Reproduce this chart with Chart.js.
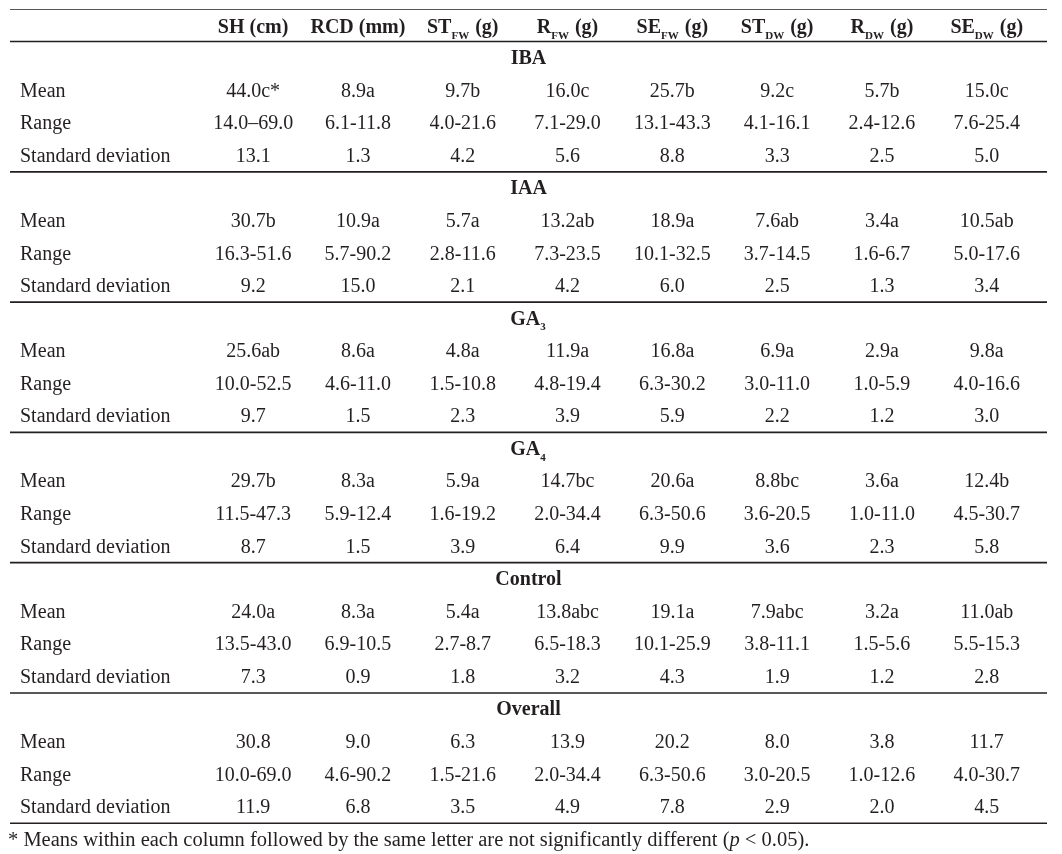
<!DOCTYPE html>
<html>
<head>
<meta charset="utf-8">
<script src="https://cdn.jsdelivr.net/npm/chart.js@4.4.1/dist/chart.umd.min.js"></script>
<style>
  html, body { margin: 0; background: #fff; }
  canvas { display: block; }
</style>
</head>
<body>
<canvas id="table" width="1062" height="854"></canvas>
<script>
// column headers: [main, subscript, unit]
const headers = [
  ["SH", "", " (cm)"],
  ["RCD", "", " (mm)"],
  ["ST", "FW", " (g)"],
  ["R", "FW", " (g)"],
  ["SE", "FW", " (g)"],
  ["ST", "DW", " (g)"],
  ["R", "DW", " (g)"],
  ["SE", "DW", " (g)"]
];
const groups = ["IBA", "IAA", "GA", "GA", "Control", "Overall"];
const groupSubs = ["", "", "3", "4", "", ""];
const rowLabels = ["Mean", "Range", "Standard deviation"];

const means = [
  ["44.0c*", "8.9a", "9.7b", "16.0c", "25.7b", "9.2c", "5.7b", "15.0c"],
  ["30.7b", "10.9a", "5.7a", "13.2ab", "18.9a", "7.6ab", "3.4a", "10.5ab"],
  ["25.6ab", "8.6a", "4.8a", "11.9a", "16.8a", "6.9a", "2.9a", "9.8a"],
  ["29.7b", "8.3a", "5.9a", "14.7bc", "20.6a", "8.8bc", "3.6a", "12.4b"],
  ["24.0a", "8.3a", "5.4a", "13.8abc", "19.1a", "7.9abc", "3.2a", "11.0ab"],
  ["30.8", "9.0", "6.3", "13.9", "20.2", "8.0", "3.8", "11.7"]
];
const ranges = [
  ["14.0\u201369.0", "6.1-11.8", "4.0-21.6", "7.1-29.0", "13.1-43.3", "4.1-16.1", "2.4-12.6", "7.6-25.4"],
  ["16.3-51.6", "5.7-90.2", "2.8-11.6", "7.3-23.5", "10.1-32.5", "3.7-14.5", "1.6-6.7", "5.0-17.6"],
  ["10.0-52.5", "4.6-11.0", "1.5-10.8", "4.8-19.4", "6.3-30.2", "3.0-11.0", "1.0-5.9", "4.0-16.6"],
  ["11.5-47.3", "5.9-12.4", "1.6-19.2", "2.0-34.4", "6.3-50.6", "3.6-20.5", "1.0-11.0", "4.5-30.7"],
  ["13.5-43.0", "6.9-10.5", "2.7-8.7", "6.5-18.3", "10.1-25.9", "3.8-11.1", "1.5-5.6", "5.5-15.3"],
  ["10.0-69.0", "4.6-90.2", "1.5-21.6", "2.0-34.4", "6.3-50.6", "3.0-20.5", "1.0-12.6", "4.0-30.7"]
];
const sds = [
  ["13.1", "1.3", "4.2", "5.6", "8.8", "3.3", "2.5", "5.0"],
  ["9.2", "15.0", "2.1", "4.2", "6.0", "2.5", "1.3", "3.4"],
  ["9.7", "1.5", "2.3", "3.9", "5.9", "2.2", "1.2", "3.0"],
  ["8.7", "1.5", "3.9", "6.4", "9.9", "3.6", "2.3", "5.8"],
  ["7.3", "0.9", "1.8", "3.2", "4.3", "1.9", "1.2", "2.8"],
  ["11.9", "6.8", "3.5", "4.9", "7.8", "2.9", "2.0", "4.5"]
];
const footnote = ["* Means within each column followed by the same letter are not significantly different (", "p", " < 0.05)."];

const ink = "#231f20";
const serif = "'Liberation Serif', 'Times New Roman', serif";
const xMin = -2.32, xMax = 7.575;
const yMin = -0.5, yMax = 25.2;

// build cells: header row 0, then 4 rows per group, footnote last
let cells = [];
headers.forEach((h, c) => cells.push({ x: c, y: 0, kind: "header", parts: h }));
groups.forEach((g, gi) => {
  const top = 1 + gi * 4;
  cells.push({ x: (xMin + xMax) / 2, y: top, kind: "group", parts: [g, groupSubs[gi], ""] });
  [means, ranges, sds].forEach((vals, ri) => {
    cells.push({ x: xMin, y: top + 1 + ri, kind: "label", text: rowLabels[ri] });
    vals[gi].forEach((v, c) => cells.push({ x: c, y: top + 1 + ri, kind: "value", text: v }));
  });
});
cells.push({ x: xMin, y: 25, kind: "note", parts: footnote });

// horizontal rules: top, below header, after each group
const ruleRows = [-0.5, 0.5];
groups.forEach((g, gi) => ruleRows.push(4.5 + gi * 4));
const ruleSets = ruleRows.map(r => ({
  type: "line",
  data: [{ x: xMin, y: r }, { x: xMax, y: r }],
  borderColor: ink,
  borderWidth: 1.6,
  pointRadius: 0,
  showLine: true
}));

function drawParts(ctx, x, y, parts, align, size) {
  const mainFont = "bold " + size + "px " + serif;
  const subFont = "bold " + Math.round(size * 0.56) + "px " + serif;
  ctx.font = mainFont;
  const w0 = ctx.measureText(parts[0]).width;
  ctx.font = subFont;
  const w1 = parts[1] ? ctx.measureText(parts[1]).width + 1 : 0;
  ctx.font = mainFont;
  const w2 = ctx.measureText(parts[2]).width;
  let sx = align === "center" ? x - (w0 + w1 + w2) / 2 : x;
  ctx.textAlign = "left";
  ctx.fillText(parts[0], sx, y);
  sx += w0;
  if (parts[1]) {
    ctx.font = subFont;
    ctx.fillText(parts[1], sx, y + size * 0.4);
    sx += w1;
  }
  ctx.font = mainFont;
  ctx.fillText(parts[2], sx, y);
}

const cellText = {
  id: "cellText",
  afterDatasetsDraw(chart) {
    const ctx = chart.ctx;
    const meta = chart.getDatasetMeta(0);
    ctx.save();
    ctx.fillStyle = ink;
    ctx.textBaseline = "middle";
    meta.data.forEach((pt, i) => {
      const cell = cells[i];
      const px = pt.x, py = pt.y + 1;
      if (cell.kind === "header") {
        drawParts(ctx, px, py + 2, cell.parts, "center", 20);
      } else if (cell.kind === "group") {
        drawParts(ctx, px, py, cell.parts, "center", 20);
      } else if (cell.kind === "label") {
        ctx.font = "20px " + serif;
        ctx.textAlign = "left";
        ctx.fillText(cell.text, px + 10, py);
      } else if (cell.kind === "value") {
        ctx.font = "20px " + serif;
        ctx.textAlign = "center";
        ctx.fillText(cell.text, px, py);
      } else if (cell.kind === "note") {
        ctx.textAlign = "left";
        let sx = px - 2;
        cell.parts.forEach((p, k) => {
          ctx.font = (k === 1 ? "italic " : "") + "20.5px " + serif;
          ctx.fillText(p, sx, py);
          sx += ctx.measureText(p).width;
        });
      }
    });
    ctx.restore();
  }
};

new Chart(document.getElementById("table"), {
  type: "scatter",
  data: {
    datasets: [
      { data: cells.map(c => ({ x: c.x, y: c.y })), pointRadius: 0, pointHoverRadius: 0 },
      ...ruleSets
    ]
  },
  options: {
    responsive: false,
    animation: false,
    events: [],
    layout: { padding: { top: 9, bottom: 8, left: 10, right: 15 } },
    plugins: { legend: { display: false }, tooltip: { enabled: false } },
    scales: {
      x: { type: "linear", min: xMin, max: xMax, display: false },
      y: { type: "linear", min: yMin, max: yMax, reverse: true, display: false }
    }
  },
  plugins: [cellText]
});
</script>
</body>
</html>
